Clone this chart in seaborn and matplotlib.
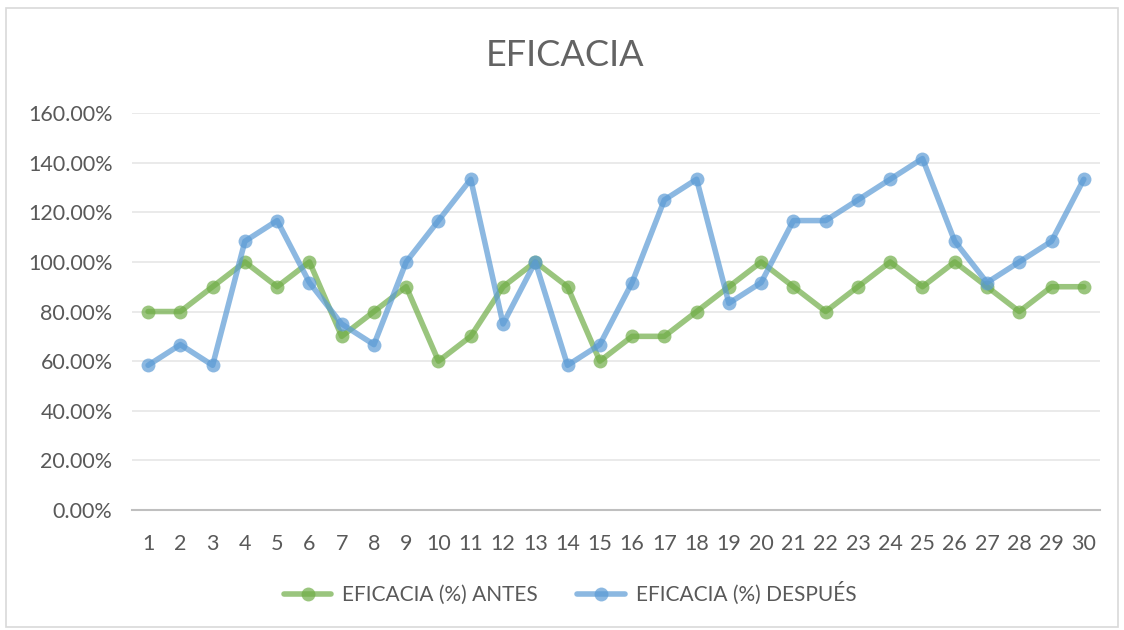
import matplotlib
matplotlib.use("Agg")
import matplotlib.pyplot as plt
import matplotlib.patches as patches
from matplotlib.ticker import FuncFormatter
import seaborn as sns
import pandas as pd

# --- DATA ---
dias = list(range(1, 31))
antes = [80, 80, 90, 100, 90, 100, 70, 80, 90, 60,
         70, 90, 100, 90, 60, 70, 70, 80, 90, 100,
         90, 80, 90, 100, 90, 100, 90, 80, 90, 90]
despues = [58.33, 66.67, 58.33, 108.33, 116.67, 91.67, 75, 66.67, 100, 116.67,
           133.33, 75, 100, 58.33, 66.67, 91.67, 125, 133.33, 83.33, 91.67,
           116.67, 116.67, 125, 133.33, 141.67, 108.33, 91.67, 100, 108.33, 133.33]
series_names = ["EFICACIA (%) ANTES", "EFICACIA (%) DESPUÉS"]
y_ticks = [0, 20, 40, 60, 80, 100, 120, 140, 160]

TEXT_COLOR = "#595959"
COLORS = ["#70AD47", "#5B9BD5"]

df = pd.DataFrame({
    "dia": dias * 2,
    "valor": antes + despues,
    "serie": [series_names[0]] * len(dias) + [series_names[1]] * len(dias),
})

sns.set_style("white")
plt.rcParams['font.family'] = ['Lato', 'DejaVu Sans']

fig = plt.figure(figsize=(11.24, 6.30), dpi=100)
ax = fig.add_axes([0.1174, 0.1905, 0.8612, 0.6300])

sns.lineplot(data=df, x="dia", y="valor", hue="serie", palette=COLORS,
             marker="o", markersize=10, markeredgewidth=0, linewidth=4,
             alpha=0.7, ax=ax, legend=True)

ax.set_xlim(0.5, 30.5)
ax.set_ylim(0, 160)
ax.set_xticks(dias)
ax.set_xticklabels([str(d) for d in dias])
ax.set_yticks(y_ticks)
ax.yaxis.set_major_formatter(FuncFormatter(lambda v, p: f"{v:.2f}%"))
ax.tick_params(axis="both", length=0, labelsize=15.5, colors=TEXT_COLOR)
ax.tick_params(axis="x", pad=17)
ax.tick_params(axis="y", pad=14)
ax.set_xlabel("")
ax.set_ylabel("")

ax.grid(axis="y", color="#E6E6E6", linewidth=1.2)
ax.set_axisbelow(True)
for side in ["top", "right", "left"]:
    ax.spines[side].set_visible(False)
ax.spines["bottom"].set_color("#BFBFBF")
ax.spines["bottom"].set_linewidth(1.5)

fig.text(0.503, 0.912, "EFICACIA", ha="center", va="center",
         fontsize=26, color="#636363")

# legend centred on the figure, not on the axes
handles, labels = ax.get_legend_handles_labels()
ax.get_legend().remove()
fig.legend(handles, labels, loc="center", bbox_to_anchor=(0.507, 0.058),
           ncol=2, frameon=False, fontsize=15, labelcolor=TEXT_COLOR,
           handlelength=2.3, handletextpad=0.5, columnspacing=1.9)

# chart border
fig.patches.append(patches.Rectangle((0.005, 0.005), 0.99, 0.982,
                                     transform=fig.transFigure, fill=False,
                                     edgecolor="#D9D9D9", linewidth=1.2))

plt.savefig("out.png", dpi=100)
plt.close()
